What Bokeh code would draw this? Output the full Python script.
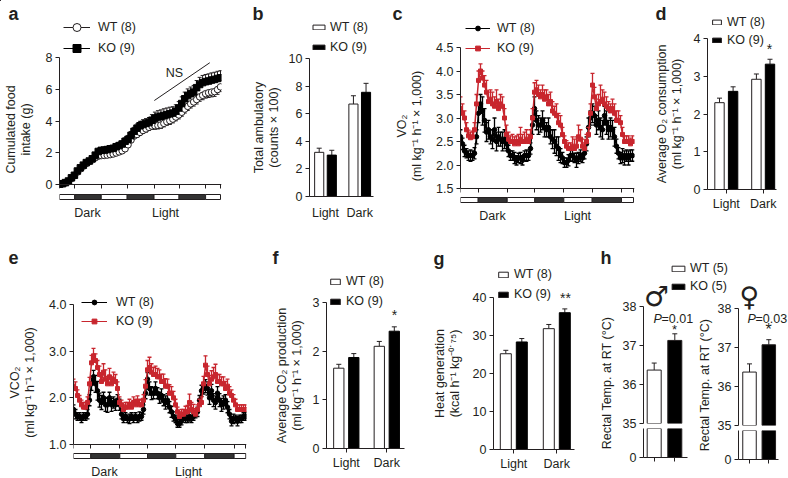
import math
from bokeh.plotting import figure
from bokeh.models import Range1d, FixedTicker, Legend, LegendItem, NumeralTickFormatter
from bokeh.core.properties import value
from bokeh.embed import file_html
from bokeh.resources import INLINE

# ---------- data ----------
light_dark = ["Light", "Dark"]
food_wt = [.02,.05,.1,.2,.38,.55,.78,.98,1.15,1.32,1.45,1.55,1.68,1.78,1.82,1.83,1.85,1.88,1.92,1.98,
           2.05,2.12,2.25,2.5,2.8,3.05,3.15,3.28,3.4,3.5,3.6,3.68,3.7,3.72,3.75,3.85,3.95,4.02,4.12,4.25,
           4.38,4.55,4.75,4.92,5.08,5.2,5.35,5.52,5.62,5.72,5.78,5.82,5.85,5.98,6.15]
food_ko = [.02,.05,.12,.22,.42,.58,.85,1.05,1.22,1.38,1.48,1.62,1.85,2.08,2.15,2.17,2.2,2.25,2.28,2.38,
           2.45,2.55,2.72,2.85,3.1,3.35,3.55,3.7,3.78,3.85,3.9,4.05,4.18,4.25,4.3,4.35,4.4,4.45,4.5,4.62,
           4.82,5.1,5.4,5.6,5.72,5.82,6.1,6.3,6.42,6.48,6.52,6.58,6.62,6.68,6.72]
food_wt_err = [.02,.03,.04,.05,.06,.06,.07,.08,.08,.09,.1,.1,.1,.12,.12,.12,.12,.12,.13,.13,
               .14,.14,.15,.15,.16,.16,.17,.18,.18,.2,.2,.2,.22,.22,.22,.22,.22,.24,.24,.24,
               .25,.25,.25,.26,.26,.26,.28,.28,.28,.28,.3,.3,.3,.3,.3]
food_ko_err = [.02,.03,.04,.05,.06,.08,.08,.1,.1,.12,.12,.14,.14,.15,.15,.16,.16,.18,.18,.2,
               .2,.2,.22,.24,.24,.25,.26,.28,.3,.3,.32,.35,.38,.4,.4,.42,.42,.42,.4,.4,
               .4,.42,.42,.42,.42,.42,.45,.45,.45,.45,.45,.45,.45,.45,.45]
ambul_wt = [3.2, 6.7];  ambul_ko = [3.0, 7.55]
ambul_wt_err = [.3, .6]; ambul_ko_err = [.35, .65]

vo2_ko = [3.2,3.1,3.0,2.75,2.62,2.58,2.6,2.75,3.3,3.8,
          4.0,3.85,3.7,3.55,3.35,3.4,3.3,3.25,3.35,3.2,
          3.3,3.25,3.0,2.65,2.55,2.5,2.5,2.45,2.5,2.45,
          2.55,2.5,2.5,2.55,2.5,2.6,3.0,3.55,3.6,3.5,
          3.45,3.5,3.4,3.45,3.3,3.35,3.15,3.1,3.05,2.9,
          2.85,2.65,2.5,2.4,2.35,2.35,2.4,2.35,2.4,2.6,
          2.55,2.4,2.35,2.5,2.65,3.1,3.7,3.45,3.2,3.3,
          3.35,3.4,3.3,3.25,3.2,3.15,3.2,3.1,2.95,2.95,
          2.9,2.65,2.5,2.5,2.5,2.45,2.5]
vo2_wt = [2.6,2.45,2.3,2.25,2.2,2.2,2.2,2.25,2.6,3.1,
          3.3,3.15,2.95,2.7,2.75,2.6,2.55,2.75,2.5,2.6,
          2.55,2.5,2.55,2.45,2.3,2.2,2.2,2.15,2.1,2.15,
          2.15,2.1,2.2,2.2,2.2,2.35,2.85,3.2,2.95,2.85,
          2.85,2.95,2.8,2.75,2.8,2.6,2.55,2.5,2.4,2.35,
          2.2,2.15,2.05,2.05,2.1,2.2,2.2,2.15,2.1,2.15,
          2.2,2.15,2.25,2.45,2.8,3.0,3.1,3.05,2.85,2.95,
          2.8,2.75,3.05,2.9,2.75,2.8,2.75,2.6,2.4,2.25,
          2.15,2.2,2.15,2.2,2.15,2.2,2.2]
vo2_ko_err = [.25,.2,.15,.15,.12,.12,.12,.15,.2,.2,
              .15,.15,.2,.25,.2,.2,.25,.2,.25,.2,
              .2,.2,.2,.2,.15,.12,.15,.15,.12,.2,
              .25,.15,.2,.2,.15,.15,.2,.2,.2,.2,
              .15,.2,.2,.15,.2,.2,.2,.15,.25,.2,
              .2,.15,.12,.12,.12,.12,.2,.2,.2,.25,
              .2,.15,.12,.15,.15,.2,.25,.2,.2,.2,
              .35,.2,.25,.2,.15,.15,.2,.2,.2,.2,
              .15,.15,.12,.12,.12,.12,.12]
vo2_wt_err = [.15,.12,.12,.1,.1,.12,.1,.12,.15,.2,
              .2,.3,.25,.2,.2,.15,.2,.25,.2,.2,
              .15,.2,.2,.15,.12,.1,.1,.12,.1,.1,
              .12,.1,.1,.12,.1,.12,.2,.25,.2,.2,
              .15,.2,.2,.15,.2,.15,.2,.25,.2,.25,
              .15,.12,.1,.1,.12,.12,.12,.1,.15,.12,
              .12,.1,.12,.15,.2,.15,.2,.2,.2,.2,
              .2,.2,.2,.25,.2,.2,.2,.2,.15,.12,
              .12,.15,.15,.12,.15,.12,.12]

vco2_ko = [2.25,2.2,2.05,1.95,1.85,1.8,1.8,1.9,2.3,2.75,
           2.9,2.8,2.65,2.5,2.35,2.55,2.4,2.3,2.45,2.3,
           2.4,2.35,2.2,1.9,1.85,1.75,1.8,1.8,1.85,1.8,
           1.9,1.85,1.9,1.85,1.85,1.95,2.25,2.6,2.65,2.55,
           2.5,2.5,2.45,2.45,2.35,2.35,2.25,2.25,2.1,2.1,
           2.0,1.85,1.7,1.6,1.65,1.65,1.7,1.7,1.9,1.75,
           1.7,1.65,1.75,1.85,1.9,2.3,2.7,2.5,2.3,2.4,
           2.45,2.5,2.35,2.35,2.3,2.3,2.2,2.25,2.1,2.05,
           1.95,1.85,1.75,1.75,1.75,1.75,1.75]
vco2_wt = [1.75,1.65,1.6,1.6,1.55,1.6,1.6,1.65,1.95,2.3,
           2.45,2.3,2.15,1.95,1.9,2.0,1.85,1.85,2.0,1.85,
           1.9,1.85,1.95,1.85,1.65,1.55,1.6,1.55,1.55,1.6,
           1.55,1.6,1.55,1.6,1.6,1.75,2.1,2.4,2.2,2.1,
           2.1,2.2,2.1,2.0,2.05,1.95,1.9,1.95,1.8,1.7,
           1.6,1.55,1.45,1.45,1.5,1.6,1.55,1.55,1.6,1.55,
           1.6,1.65,1.7,1.95,2.15,2.2,2.25,2.2,2.0,2.15,
           1.95,1.9,2.1,1.95,1.85,1.9,1.95,1.8,1.65,1.5,
           1.55,1.55,1.5,1.55,1.55,1.6,1.6]
vco2_ko_err = [.15,.14,.12,.1,.1,.1,.1,.12,.14,.16,
               .16,.14,.15,.18,.15,.18,.2,.16,.18,.15,
               .15,.15,.14,.12,.1,.1,.1,.1,.12,.1,
               .12,.12,.14,.12,.1,.12,.14,.2,.22,.18,
               .15,.18,.18,.15,.16,.16,.16,.15,.18,.14,
               .14,.12,.1,.1,.1,.1,.12,.14,.18,.15,
               .16,.12,.1,.12,.12,.16,.2,.18,.18,.18,
               .2,.22,.15,.15,.15,.15,.15,.15,.14,.12,
               .12,.12,.1,.1,.1,.1,.1]
vco2_wt_err = [.1,.1,.08,.08,.08,.08,.08,.1,.12,.14,
               .14,.18,.2,.15,.15,.12,.14,.16,.12,.14,
               .12,.12,.12,.12,.1,.08,.08,.08,.1,.08,
               .08,.08,.08,.1,.08,.1,.12,.14,.14,.14,
               .12,.14,.12,.12,.14,.12,.14,.14,.12,.12,
               .1,.08,.08,.08,.08,.08,.08,.08,.1,.08,
               .08,.08,.1,.1,.12,.12,.14,.14,.14,.14,
               .14,.14,.14,.14,.14,.14,.12,.12,.1,.1,
               .1,.08,.1,.08,.08,.08,.08]

o2_wt = [2.3, 2.92];  o2_ko = [2.6, 3.32]
o2_wt_err = [.12, .14]; o2_ko_err = [.12, .13]
co2_wt = [1.65, 2.1]; co2_ko = [1.87, 2.41]
co2_wt_err = [.08, .1]; co2_ko_err = [.08, .09]
heat_wt = [25.2, 31.8]; heat_ko = [28.3, 36.0]
heat_wt_err = [.9, 1.1]; heat_ko_err = [.9, 1.0]
temp_m = [36.37, 37.13]; temp_m_err = [.18, .17]
temp_f = [36.37, 37.07]; temp_f_err = [.21, .13]

seg_a = [0, 5.1, 14, 22.7, 31.7, 40.1, 49, 54]
seg_c = [0, 8.85, 23.35, 37.15, 51.65, 65.85, 80.5, 86.5]
seg_e = [0, 8.65, 23.15, 37, 51.15, 65.65, 80.3, 86.15]

# ---------- helpers ----------
FONT = "Liberation Sans"
INK = "#231f20"
RED = "#c8262e"
WIN_W, WIN_H = 788, 478
roots = []


def at(f, x0, y0):
    # every panel is its own page root, pinned to its place in the window
    f.styles = {"position": "absolute", "left": f"{x0}px", "top": f"{y0}px"}
    roots.append(f)


# transparent sheet over the whole window: texts and legends that lie outside the panels' plot areas
sheet = figure(width=WIN_W, height=WIN_H, output_backend="svg", toolbar_location=None,
               x_range=Range1d(0, WIN_W), y_range=Range1d(WIN_H, 0),
               x_axis_location=None, y_axis_location=None,
               min_border=0, background_fill_color=None, border_fill_color=None, outline_line_color=None)
sheet.grid.visible = False


def txt(px, py, text, size=12.5, align="center", style="normal", angle=0, font=FONT):
    sheet.text([px], [py], text=[text], text_font=value(font), text_font_size=value(f"{size}px"),
               text_font_style=style, text_color=INK, text_align=align, text_baseline="middle", angle=angle)


def off_line(color):
    return sheet.line([-50, -40], [-50, -40], line_color=color, line_width=1)


def off_mark(marker, fill, line, size=5):
    return sheet.scatter([-50], [-50], marker=marker, size=size, fill_color=fill, line_color=line, line_width=1)


def off_box(fill):
    return sheet.vbar(x=[-50], top=[-50], bottom=-60, width=1, fill_color=fill, line_color=INK, line_width=1)


def legend(rows, px, py_top, gw, gh, lh, spacing, standoff):
    n = len(rows)
    height = n * max(gh, lh, 14) + (n - 1) * spacing
    leg = Legend(items=[LegendItem(label=t, renderers=r) for t, r in rows],
                 location=(px, WIN_H - (py_top + height)),
                 glyph_width=gw, glyph_height=gh, label_height=lh, spacing=spacing,
                 label_standoff=standoff, padding=0, margin=0,
                 background_fill_alpha=0, border_line_color=None,
                 label_text_font=FONT, label_text_font_size="12.5px", label_text_color=INK)
    sheet.add_layout(leg, "center")


class Panel:
    def __init__(s, x0, y0, w, h, fl, fr, ft, fb, xcal, ycal):
        s.xv = lambda px: xcal[0] + (px - xcal[1]) * (xcal[2] - xcal[0]) / (xcal[3] - xcal[1])
        s.yv = lambda py: ycal[0] + (py - ycal[1]) * (ycal[2] - ycal[0]) / (ycal[3] - ycal[1])
        s.f = figure(width=w, height=h, output_backend="svg", toolbar_location=None,
                     x_range=Range1d(s.xv(fl), s.xv(fr)), y_range=Range1d(s.yv(fb), s.yv(ft)),
                     min_border_left=fl - x0, min_border_right=x0 + w - fr,
                     min_border_top=ft - y0, min_border_bottom=y0 + h - fb,
                     background_fill_color=None, border_fill_color=None, outline_line_color=None)
        s.f.grid.visible = False
        for ax in s.f.xaxis + s.f.yaxis:
            ax.axis_line_color = INK
            ax.major_tick_line_color = INK
            ax.minor_tick_line_color = None
            ax.major_tick_in = 0
            ax.major_tick_out = 4
            ax.major_label_text_font = FONT
            ax.major_label_text_font_size = "12.5px"
            ax.major_label_text_color = INK
            ax.axis_label_text_font = FONT
            ax.axis_label_text_font_size = "12.5px"
            ax.axis_label_text_font_style = "normal"
            ax.axis_label_text_color = INK
            ax.axis_label_text_line_height = 1.05
            ax.major_label_standoff = 3
        at(s.f, x0, y0)

    def yaxis(s, ticks, label, standoff, bounds=None, fmt=None):
        ax = s.f.yaxis[0]
        ax.ticker = FixedTicker(ticks=ticks)
        ax.axis_label = label
        ax.axis_label_standoff = standoff
        if bounds:
            ax.bounds = bounds
        if fmt:
            ax.formatter = NumeralTickFormatter(format=fmt)


def err_up(f, xs, ys, es, color, cap=4, lw=1):
    tops = [y + e for y, e in zip(ys, es)]
    f.segment(xs, ys, xs, tops, line_color=color, line_width=lw)
    f.scatter(xs, tops, marker="dash", size=cap, line_color=color, line_width=lw)


def err_down(f, xs, ys, es, color, cap=4, lw=1):
    lows = [y - e for y, e in zip(ys, es)]
    f.segment(xs, ys, xs, lows, line_color=color, line_width=lw)
    f.scatter(xs, lows, marker="dash", size=cap, line_color=color, line_width=lw)


def bar_panel(x0, y0, w, h, fl, fr, ft, fb, c1, c2, ycal, half_gap, bw, wt, ko, wte, koe,
              ticks, ylabel, standoff, tick_out=4, lab_standoff=6):
    P = Panel(x0, y0, w, h, fl, fr, ft, fb, (1, c1, 2, c2), ycal)
    d = c2 - c1
    xs = [1, 2]
    xw = [x - half_gap / d for x in xs]
    xk = [x + half_gap / d for x in xs]
    err_up(P.f, xw, wt, wte, INK, 5)
    err_up(P.f, xk, ko, koe, INK, 5)
    P.f.vbar(x=xw, top=wt, bottom=ycal[0], width=bw / d, fill_color="white", line_color=INK, line_width=1)
    P.f.vbar(x=xk, top=ko, bottom=ycal[0], width=bw / d, fill_color="black", line_color="black", line_width=1)
    P.yaxis(ticks, ylabel, standoff)
    ax = P.f.xaxis[0]
    ax.ticker = FixedTicker(ticks=xs)
    ax.major_label_overrides = {x: t for x, t in zip(xs, light_dark)}
    ax.major_tick_out = tick_out
    ax.major_label_standoff = lab_standoff
    return P.f


def time_panel(x0, y0, w, h, fl, fr, ft, fb, xcal, ycal, seg, bar_y, ticks, ylabel, standoff,
               zero, fmt=None):
    P = Panel(x0, y0, w, h, fl, fr, ft, fb, xcal, ycal)
    P.yaxis(ticks, ylabel, standoff, bounds=(ticks[0], ticks[-1]), fmt=fmt)
    ax = P.f.xaxis[0]
    ax.ticker = FixedTicker(ticks=seg)
    ax.major_label_overrides = {t: "" for t in seg}
    ax.fixed_location = zero
    b0, b1 = P.yv(bar_y[1]), P.yv(bar_y[0])
    P.f.quad(left=seg[:-1], right=seg[1:], bottom=b0, top=b1, line_color=INK, line_width=1,
             fill_color=["white" if i % 2 == 0 else "#333333" for i in range(len(seg) - 1)])
    return P.f


def wt_ko_legend(px, py, gw, gh, spacing, standoff, n1="WT (8)", n2="KO (9)"):
    legend([(n1, [off_box("white")]), (n2, [off_box("black")])], px, py, gw, gh, gh, spacing, standoff)


def metabolic_series(f, xs, wt, ko, wte, koe):
    err_down(f, xs, wt, wte, "black", 4, 1.3)
    err_up(f, xs, wt, wte, "black", 4, 1.3)
    f.line(xs, wt, line_color="black", line_width=1.5)
    f.scatter(xs, wt, marker="circle", size=4.5, fill_color="black", line_color="black")
    err_up(f, xs, ko, koe, RED, 4, 1.3)
    f.line(xs, ko, line_color=RED, line_width=1.5)
    f.scatter(xs, ko, marker="square", size=4, fill_color=RED, line_color=RED)


# ---------- a ----------
fa = time_panel(0, 0, 248, 233, 58, 221, 57, 201, (0, 58, 54, 220), (8, 57, 0, 184), seg_a, (194, 199),
                [0, 2, 4, 6, 8], "Cumulated food\nintake (g)", 10, 0)
xa = list(range(len(food_wt)))
err_down(fa, xa, food_wt, food_wt_err, INK)
fa.line(xa, food_wt, line_color=INK, line_width=1)
fa.scatter(xa, food_wt, marker="circle", size=6.5, fill_color="white", line_color=INK, line_width=1)
err_up(fa, xa, food_ko, food_ko_err, INK)
fa.line(xa, food_ko, line_color="black", line_width=1)
fa.scatter(xa, food_ko, marker="square", size=6.5, fill_color="black", line_color="black")
fa.line([31.8, 50.4], [5.29, 7.67], line_color=INK, line_width=1)
legend([("WT (8)", [off_line(INK), off_mark("circle", "white", INK)]),
        ("KO (9)", [off_line("black"), off_mark("square", "black", "black")])], 63, 17, 27, 20, 20, 1, 8)
txt(174, 72, "NS")
txt(87, 212, "Dark")
txt(165, 212, "Light")
txt(8, 13, "a", 18, "left", "bold")

# ---------- b ----------
fb_ = bar_panel(248, 0, 137, 233, 307, 373, 58, 196, 323.5, 358.8, (0, 196, 10, 58), 6.5, 9.4,
                ambul_wt, ambul_ko, ambul_wt_err, ambul_ko_err, [0, 2, 4, 6, 8, 10],
                "Total ambulatory\n(counts × 100)", 5, tick_out=0, lab_standoff=9)
wt_ko_legend(311, 20, 15, 6, 6, 4)
txt(252, 13, "b", 18, "left", "bold")

# ---------- c ----------
fc = time_panel(385, 0, 265, 233, 460, 634, 47, 204, (0, 460, 86, 632), (4.5, 47, 1.5, 188), seg_c, (197, 202),
                [1.5, 2.0, 2.5, 3.0, 3.5, 4.0, 4.5], "VO₂\n(ml kg⁻¹ h⁻¹ × 1,000)", 9, 1.5, fmt="0.0")
metabolic_series(fc, list(range(len(vo2_wt))), vo2_wt, vo2_ko, vo2_wt_err, vo2_ko_err)
legend([("WT (8)", [off_line("black"), off_mark("circle", "black", "black")]),
        ("KO (9)", [off_line(RED), off_mark("square", RED, RED)])], 465, 21, 25, 12, 12, 6, 7)
txt(492, 215, "Dark")
txt(577, 215, "Light")
txt(392, 13, "c", 18, "left", "bold")

# ---------- d ----------
fd = bar_panel(650, 0, 138, 233, 707, 776, 38, 189, 725.8, 762.7, (0, 189, 4, 38), 6.8, 9.4,
               o2_wt, o2_ko, o2_wt_err, o2_ko_err, [0, 1, 2, 3, 4],
               "Average O₂ consumption\n(ml kg⁻¹ h⁻¹ × 1,000)", 7, lab_standoff=3)
wt_ko_legend(711, 15, 11, 6, 4, 5)
txt(769, 48, "*", 14)
txt(655, 13, "d", 18, "left", "bold")

# ---------- e ----------
fe = time_panel(0, 233, 262, 245, 73, 246, 304, 460, (0, 73, 86, 245), (4.0, 304, 1.0, 444), seg_e, (453, 458),
                [1.0, 2.0, 3.0, 4.0], "VCO₂\n(ml kg⁻¹ h⁻¹ × 1,000)", 9, 1.0, fmt="0.0")
metabolic_series(fe, list(range(len(vco2_wt))), vco2_wt, vco2_ko, vco2_wt_err, vco2_ko_err)
legend([("WT (8)", [off_line("black"), off_mark("circle", "black", "black")]),
        ("KO (9)", [off_line(RED), off_mark("square", RED, RED)])], 81, 295, 26, 12, 12, 5, 9)
txt(104, 471, "Dark")
txt(188, 471, "Light")
txt(8, 257, "e", 18, "left", "bold")

# ---------- f ----------
ff = bar_panel(262, 233, 166, 245, 326, 404, 302, 448, 345.8, 386.3, (0, 448, 3, 302), 7.5, 10.3,
               co2_wt, co2_ko, co2_wt_err, co2_ko_err, [0, 1, 2, 3],
               "Average CO₂ production\n(ml kg⁻¹ h⁻¹ × 1,000)", 6, lab_standoff=3)
wt_ko_legend(329, 274, 12, 7, 6, 5)
txt(394, 314, "*", 14)
txt(272, 257, "f", 18, "left", "bold")

# ---------- g ----------
fg = bar_panel(428, 233, 170, 245, 493, 574, 297, 449, 513.3, 556.3, (0, 449, 40, 297), 8, 11,
               heat_wt, heat_ko, heat_wt_err, heat_ko_err, [0, 10, 20, 30, 40],
               "Heat generation\n(kcal h⁻¹ kg⁻⁰˙⁷⁵)", 8, lab_standoff=3)
wt_ko_legend(497, 267, 12, 7, 6, 5)
txt(565, 297, "**", 14)
txt(433, 258, "g", 18, "left", "bold")


# ---------- h ----------
def broken(x0, w, fl, fr, c1, c2, split, t38, b0, bw, vals, errs, lab_px):
    U = Panel(x0, 233, w, 245, fl, fr, t38, split, (1, c1, 2, c2), (38, t38, 35, split))
    L = Panel(x0, 233, w, 245, fl, fr, split + 5, b0, (1, c1, 2, c2), (0, b0, 35, split + 5))
    d = c2 - c1
    xs = [1, 2]
    colors = ["white", "black"]
    err_up(U.f, xs, vals, errs, INK, 5)
    U.f.vbar(x=xs, top=vals, bottom=30, width=bw / d, fill_color=colors, line_color=INK, line_width=1)
    L.f.vbar(x=xs, top=40, bottom=0, width=bw / d, fill_color=colors, line_color=INK, line_width=1)
    U.yaxis([35, 36, 37, 38], None, 0)
    U.f.xaxis.visible = False
    L.yaxis([0], None, 0)
    ax = L.f.xaxis[0]
    ax.ticker = FixedTicker(ticks=xs)
    ax.major_label_overrides = {1: "", 2: ""}
    txt(lab_px, (t38 + b0) / 2 + 1, "Rectal Temp. at RT (°C)", angle=math.pi / 2)


broken(598, 100, 643, 687, 653.7, 674.3, 423, 306, 457, 14, temp_m, temp_m_err, 606)
wt_ko_legend(670, 261, 16, 7, 4, 4, "WT (5)", "KO (5)")
txt(653, 318, "P", 12.5, "left", "italic")
txt(661, 318, "=0.01", 12.5, "left")
txt(674, 329, "*", 13)
txt(656, 296, "♂", 28, font="DejaVu Sans")
txt(600, 257, "h", 18, "left", "bold")

broken(698, 90, 738, 778, 749, 768.3, 425, 308, 459, 13.5, temp_f, temp_f_err, 704)
txt(747, 318, "P", 12.5, "left", "italic")
txt(755, 318, "=0.03", 12.5, "left")
txt(768, 329, "*", 16)
txt(749, 296, "♀", 27, font="DejaVu Sans")

# ---------- page ----------
at(sheet, 0, 0)
open("out.html", "w").write(file_html(roots, INLINE))
